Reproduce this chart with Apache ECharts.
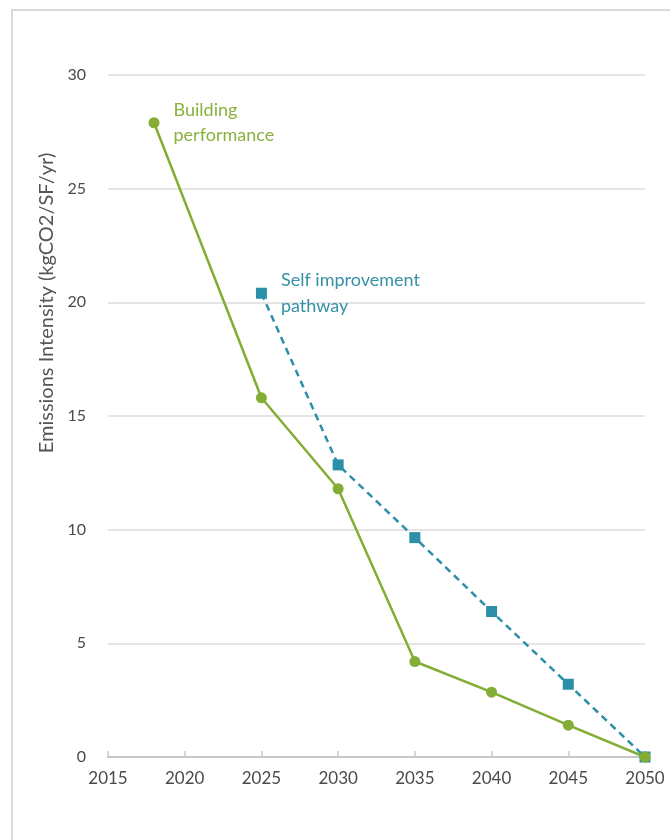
<!DOCTYPE html>
<html>
<head>
<meta charset="utf-8">
<script src="https://cdn.jsdelivr.net/npm/echarts@6/dist/echarts.min.js"></script>
<style>
  html, body { margin: 0; padding: 0; background: #fff; }
  #chart { width: 670px; height: 840px; }
</style>
</head>
<body>
<div id="chart"></div>
<script>
// Emissions intensity pathways to 2050
const years = [2015, 2020, 2025, 2030, 2035, 2040, 2045, 2050];
const buildingYears = [2018, 2025, 2030, 2035, 2040, 2045, 2050];
const buildingValues = [27.9, 15.8, 11.8, 4.2, 2.85, 1.4, 0];
const selfYears = [2025, 2030, 2035, 2040, 2045, 2050];
const selfValues = [20.4, 12.85, 9.65, 6.4, 3.2, 0];
const yTicks = [0, 5, 10, 15, 20, 25, 30];

const GREEN = '#83ad35';
const BLUE = '#2b8fa8';
const FONT = 'Lato, "Open Sans", sans-serif';

function pairs(xs, ys) { return xs.map((x, i) => [x, ys[i]]); }

const chart = echarts.init(document.getElementById('chart'), null, { renderer: 'canvas' });

chart.setOption({
  backgroundColor: '#fff',
  animation: false,
  textStyle: { fontFamily: FONT },
  graphic: [
    {
      type: 'rect',
      shape: { x: 12, y: 10, width: 700, height: 900 },
      style: { fill: 'none', stroke: '#d9d9d9', lineWidth: 2 },
      silent: true
    },
    {
      type: 'text',
      x: 47, y: 303,
      rotation: Math.PI / 2,
      style: {
        text: 'Emissions Intensity (kgCO2/SF/yr)',
        fill: '#555', font: '20px ' + FONT,
        align: 'center', verticalAlign: 'middle'
      }
    }
  ],
  grid: { left: 108, right: 25, top: 75, bottom: 83, containLabel: false },
  xAxis: {
    type: 'value',
    min: years[0], max: years[years.length - 1], interval: 5,
    axisLine: { show: true, lineStyle: { color: '#c8c8c8', width: 2 } },
    axisTick: { show: true, inside: true, length: 6, lineStyle: { color: '#c8c8c8', width: 1.5 } },
    splitLine: { show: false },
    axisLabel: {
      color: '#4a4a4a', fontSize: 17, margin: 13,
      formatter: v => years.includes(v) ? String(v) : ''
    }
  },
  yAxis: {
    type: 'value',
    min: yTicks[0], max: yTicks[yTicks.length - 1], interval: 5,
    axisLine: { show: false },
    axisTick: { show: false },
    splitLine: { show: true, lineStyle: { color: '#dcdcdc', width: 1.5 } },
    axisLabel: { color: '#4a4a4a', fontSize: 16, margin: 22 }
  },
  series: [
    {
      name: 'Self improvement pathway',
      type: 'line',
      data: pairs(selfYears, selfValues),
      symbol: 'rect', symbolSize: 11,
      itemStyle: { color: BLUE },
      lineStyle: { color: BLUE, width: 2.5, type: [7, 5] },
      label: {
        show: true, position: 'right', distance: 14,
        color: '#3590a8', fontSize: 18, lineHeight: 26, fontFamily: FONT,
        formatter: p => p.dataIndex === 0 ? 'Self improvement\npathway' : ''
      },
      z: 2
    },
    {
      name: 'Building performance',
      type: 'line',
      data: pairs(buildingYears, buildingValues),
      symbol: 'circle', symbolSize: 11,
      itemStyle: { color: GREEN },
      lineStyle: { color: GREEN, width: 2.5 },
      label: {
        show: true, position: 'right', distance: 14,
        color: '#89b23d', fontSize: 18, lineHeight: 25, fontFamily: FONT,
        formatter: p => p.dataIndex === 0 ? 'Building\nperformance' : ''
      },
      z: 3
    }
  ]
});
</script>
</body>
</html>
